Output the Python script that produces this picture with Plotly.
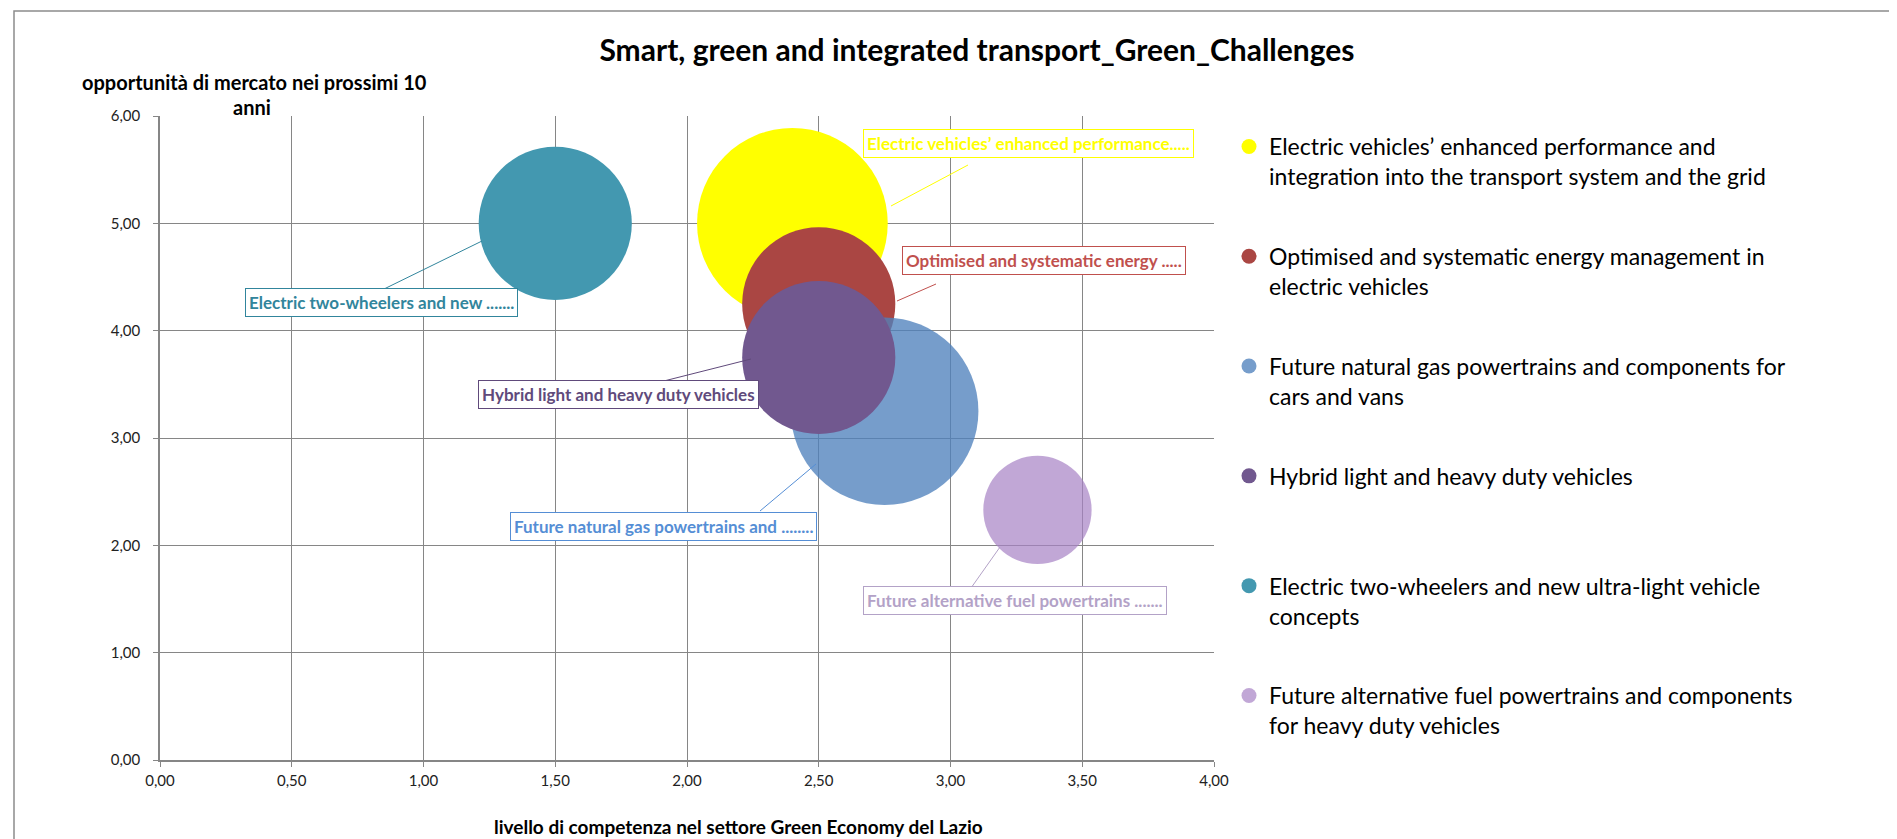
import plotly.graph_objects as go

# --- data -----------------------------------------------------------------
sfide = [
    "Electric vehicles’ enhanced performance and<br>integration into the transport system and the grid",
    "Optimised and systematic energy management in<br>electric vehicles",
    "Future natural gas powertrains and components for<br>cars and vans",
    "Hybrid light and heavy duty vehicles<br> ",
    "Electric two-wheelers and new ultra-light vehicle<br>concepts",
    "Future alternative fuel powertrains and components<br>for heavy duty vehicles",
]
etichette = [
    "Electric vehicles’ enhanced performance.....",
    "Optimised and systematic energy .....",
    "Future natural gas powertrains and ........",
    "Hybrid light and heavy duty vehicles",
    "Electric two-wheelers and new .......",
    "Future alternative fuel powertrains .......",
]
competenza = [2.40, 2.50, 2.75, 2.50, 1.50, 3.33]
opportunita = [5.00, 4.25, 3.25, 3.75, 5.00, 2.33]
dimensione = [3.1, 2.0, 3.0, 2.0, 2.0, 1.0]

x_ticks = [0, 0.5, 1, 1.5, 2, 2.5, 3, 3.5, 4]
y_ticks = [0, 1, 2, 3, 4, 5, 6]

# --- style ----------------------------------------------------------------
colori = ["#FFFF00", "#AA4643", "rgba(79,129,189,0.78)", "#71588F",
          "#4398B0", "rgba(166,129,196,0.7)"]
colori_testo = ["#FFFF00", "#C0504D", "#558ED5", "#604A7B", "#31859C", "#B3A2C7"]

OFF = 8  # page body margin
W, H = 1897 - OFF, 839 - OFF
# plot area, in screen px
L, R, T, B = 160, 1214, 116, 760
FONT = "Lato"
GRID = "#868686"


def fx(px):
    return (px - L) / (R - L)


def fy(py):
    return (B - py) / (B - T)


def dx(px):
    return (px - L) / (R - L) * 4


def dy(py):
    return (B - py) / (B - T) * 6


# label box centres and leader lines (screen px)
box_pos = [(1028, 144), (1044, 260), (663, 526), (618, 394), (381, 302), (1015, 600)]
leader = [((891, 206), (968, 165)), ((897, 301), (936, 284)), ((816, 464), (760, 511)),
          ((751, 359), (652, 384)), ((482, 241), (382, 290)), ((1000, 547), (971, 588))]

sizeref = 2.0 / 108.3 ** 2

fig = go.Figure()
for i in range(len(sfide)):
    fig.add_trace(go.Scatter(
        x=[competenza[i]], y=[opportunita[i]],
        mode="markers",
        name=sfide[i],
        legendgroup="g%d" % i,
        showlegend=False,
        marker=dict(size=[dimensione[i]], sizemode="area", sizeref=sizeref,
                    color=colori[i], opacity=1, line=dict(width=0)),
    ))
    # legend entry with an Excel-like dot size
    fig.add_trace(go.Scatter(
        x=[None], y=[None],
        mode="markers",
        name=sfide[i],
        legendgroup="g%d" % i,
        marker=dict(size=15, color=colori[i], line=dict(width=0)),
    ))

for i in range(len(etichette)):
    (x0, y0), (x1, y1) = leader[i]
    fig.add_shape(type="line", xref="x", yref="y",
                  x0=dx(x0), y0=dy(y0), x1=dx(x1), y1=dy(y1),
                  line=dict(color=colori_testo[i], width=1))
    fig.add_annotation(
        text="<b>%s</b>" % etichette[i],
        xref="paper", yref="paper",
        x=fx(box_pos[i][0]), y=fy(box_pos[i][1]),
        xanchor="center", yanchor="middle",
        showarrow=False,
        font=dict(family=FONT, size=17, color=colori_testo[i]),
        bgcolor="white", bordercolor=colori_testo[i], borderwidth=1, borderpad=3,
    )

# axis titles
fig.add_annotation(
    text="<b>opportunità di mercato nei prossimi 10</b>",
    xref="paper", yref="paper", x=fx(254), y=fy(82),
    xanchor="center", yanchor="middle", showarrow=False,
    font=dict(family=FONT, size=20, color="black"),
)
fig.add_annotation(
    text="<b>anni</b>",
    xref="paper", yref="paper", x=fx(252), y=fy(107),
    xanchor="center", yanchor="middle", showarrow=False,
    font=dict(family=FONT, size=20, color="black"),
)
fig.add_annotation(
    text="<b>livello di competenza nel settore Green Economy del Lazio</b>",
    xref="paper", yref="paper", x=fx(738), y=fy(826),
    xanchor="center", yanchor="middle", showarrow=False,
    font=dict(family=FONT, size=19, color="black"),
)

# chart frame
fig.add_shape(type="rect", xref="paper", yref="paper",
              x0=fx(14), y0=fy(11), x1=fx(1920), y1=fy(860),
              line=dict(color="#8C8C8C", width=1.5), layer="below")

fig.update_layout(
    width=W, height=H,
    margin=dict(l=L - OFF, r=W - (R - OFF), t=T - OFF, b=H - (B - OFF),
                autoexpand=False),
    separators=",.",
    plot_bgcolor="white", paper_bgcolor="white",
    font=dict(family=FONT, color="black"),
    title=dict(text="<b>Smart, green and integrated transport_Green_Challenges</b>",
               xref="container", yref="container",
               x=(977 - OFF) / W, y=1 - (50 - OFF) / H, xanchor="center", yanchor="middle",
               font=dict(family=FONT, size=30, color="black")),
    xaxis=dict(range=[0, 4], tickvals=x_ticks, tickformat=".2f",
               showgrid=True, gridcolor=GRID, gridwidth=1,
               showline=True, linecolor=GRID, linewidth=1.5,
               ticks="outside", ticklen=5, tickcolor=GRID,
               zeroline=False, ticklabelstandoff=1,
               tickfont=dict(family=FONT, size=15, color="#222")),
    yaxis=dict(range=[0, 6], tickvals=y_ticks, tickformat=".2f",
               showgrid=True, gridcolor=GRID, gridwidth=1,
               showline=True, linecolor=GRID, linewidth=1.5,
               ticks="outside", ticklen=5, tickcolor=GRID,
               zeroline=False, ticklabelstandoff=10,
               tickfont=dict(family=FONT, size=15, color="#222")),
    legend=dict(xref="container", yref="container",
                x=1221 / W, y=1 - 117 / H, xanchor="left", yanchor="top",
                valign="top", tracegroupgap=47, itemsizing="trace",
                maxheight=760,
                font=dict(family=FONT, size=23, color="black"),
                bgcolor="rgba(0,0,0,0)"),
    showlegend=True,
)

fig.write_html("out.html")
